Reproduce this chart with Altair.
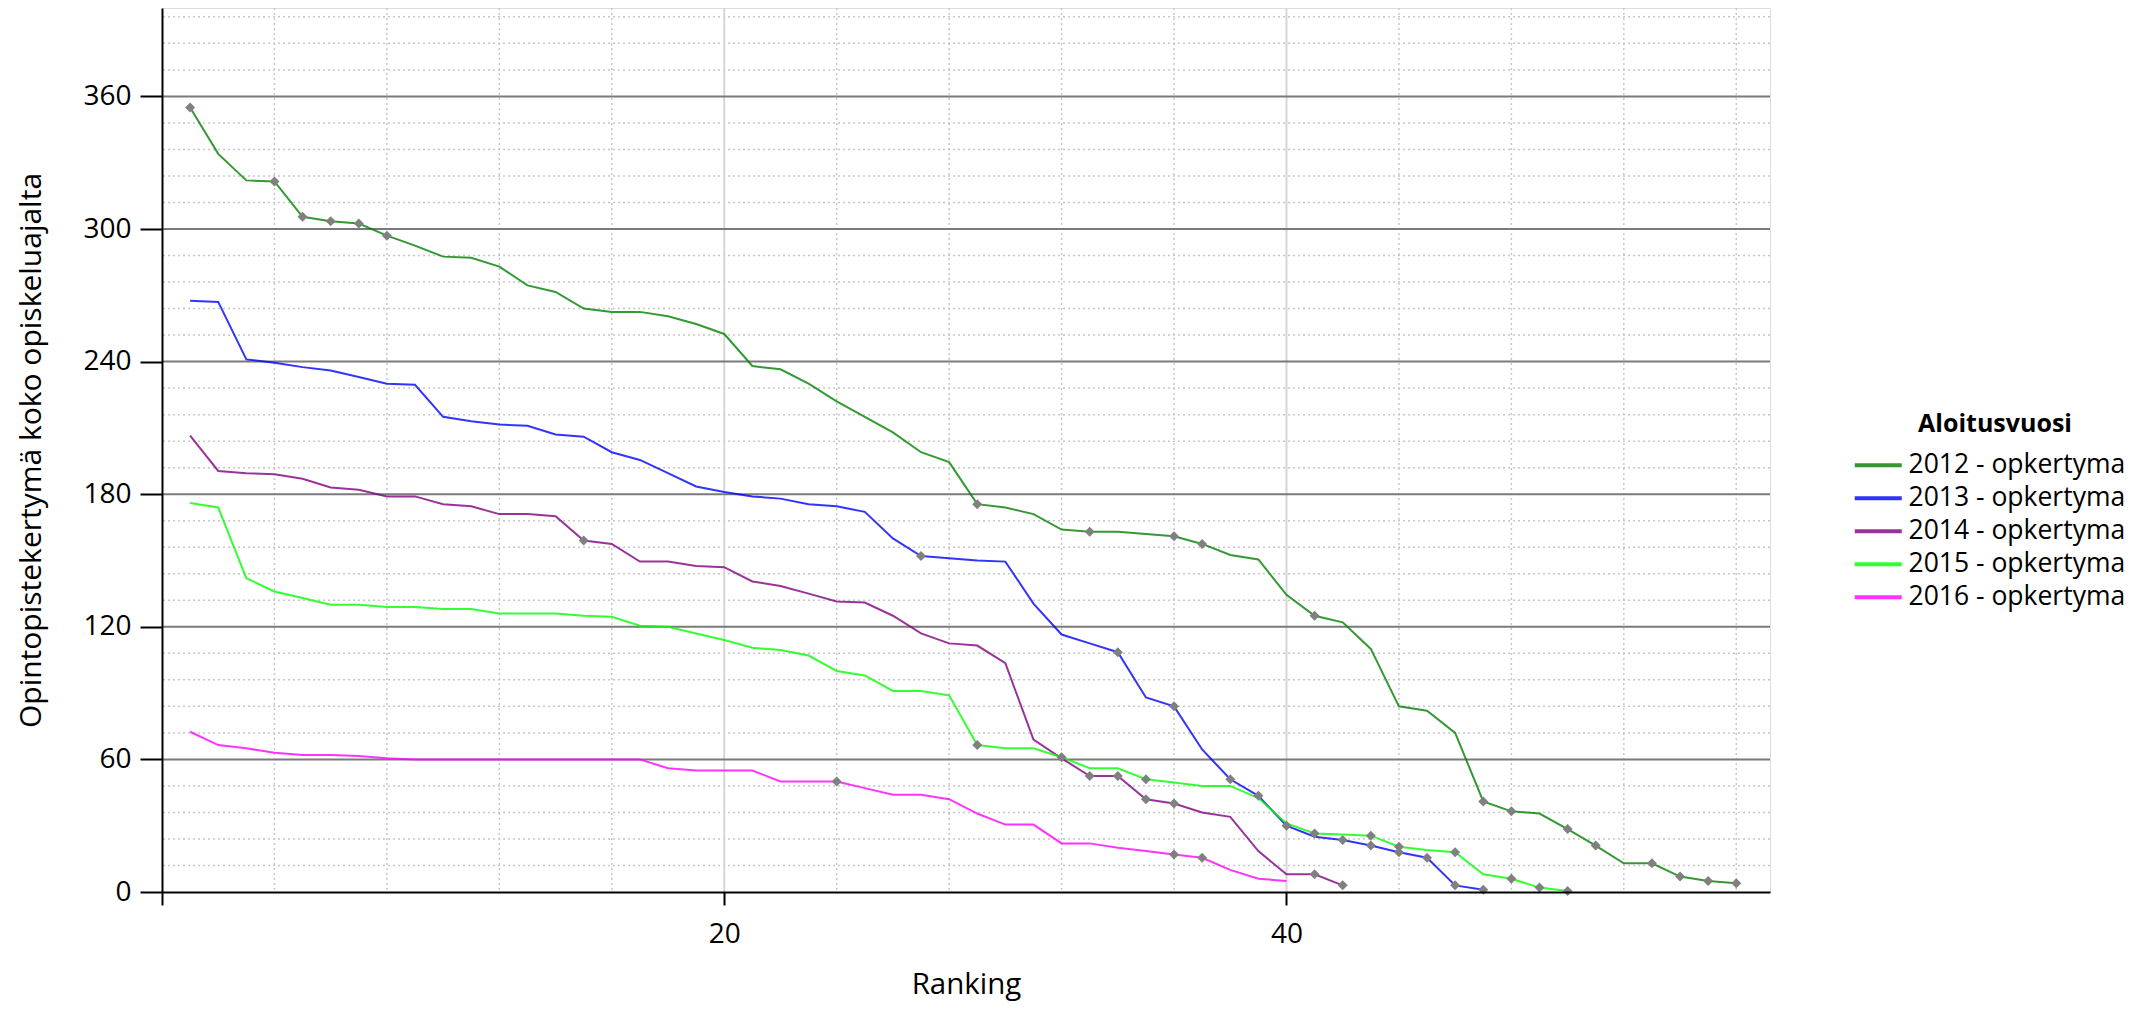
import altair as alt
import pandas as pd

series_names = ["2012 - opkertyma", "2013 - opkertyma", "2014 - opkertyma",
                "2015 - opkertyma", "2016 - opkertyma"]
series_colors = ["#008000", "#0000ff", "#800080", "#00ff00", "#ff00ff"]

v2012 = [355, 334, 322, 321.5, 305.5, 303.5, 302.5, 297, 292.5, 287.5, 287, 283, 274.5, 271.5,
         264, 262.5, 262.5, 260.5, 257, 252.5, 238, 236.5, 230, 222, 215, 208, 199, 194.5,
         175.5, 174, 171, 164, 163, 163, 162, 161, 157.5, 152.5, 150.5, 134.5, 125, 122, 110,
         84, 82, 72, 41, 36.5, 35.5, 28.5, 21, 13, 13, 7, 5, 4]
v2013 = [267.5, 267, 241, 239.5, 237.5, 236, 233, 230, 229.5, 215, 213, 211.5, 211, 207, 206,
         199, 195.5, 189.5, 183.5, 181, 179, 178, 175.5, 174.5, 172, 160, 152, 151, 150, 149.5,
         130.5, 116.5, 112.5, 108.5, 88, 84, 64.5, 51, 43.5, 30, 25, 23.5, 21, 18, 15.5, 3, 1]
v2014 = [206.5, 190.5, 189.5, 189, 187, 183, 182, 179, 179, 175.5, 174.5, 171, 171, 170, 159,
         157.5, 149.5, 149.5, 147.5, 147, 140.5, 138.5, 135, 131.5, 131, 125, 117, 112.5, 111.5,
         103.5, 69, 60.5, 52.5, 52.5, 42, 40, 36, 34, 18.5, 8, 8, 3]
v2015 = [176, 174, 142, 136, 133, 130, 130, 129, 129, 128, 128, 126, 126, 126, 125, 124.5,
         120.5, 120, 117, 114, 110.5, 109.5, 107, 100, 98, 91, 91, 89, 66.5, 65, 65, 61, 56, 56,
         51, 49.5, 48, 48, 42.5, 31, 26.5, 26, 25.5, 20.5, 19, 18, 8, 6, 2, 0.5]
v2016 = [72.5, 66.5, 65, 63, 62, 62, 61.5, 60.5, 60, 60, 60, 60, 60, 60, 60, 60, 60, 56, 55,
         55, 55, 50, 50, 50, 47, 44, 44, 42, 35.5, 30.5, 30.5, 22, 22, 20, 18.5, 17, 15.5, 10,
         6, 5]
series_values = [v2012, v2013, v2014, v2015, v2016]

# ranks that carry a grey diamond marker, per series
m2012 = [1, 4, 5, 6, 7, 8, 29, 33, 36, 37, 41, 47, 48, 50, 51, 53, 54, 55, 56]
m2013 = [27, 34, 36, 38, 39, 40, 42, 43, 44, 45, 46, 47]
m2014 = [15, 33, 34, 35, 36, 41, 42]
m2015 = [29, 32, 35, 41, 43, 44, 46, 48, 49, 50]
m2016 = [24, 36, 37]
series_markers = [m2012, m2013, m2014, m2015, m2016]

# grid / tick positions
x_minor = [4, 8, 12, 16, 24, 28, 32, 36, 44, 48, 52, 56]
x_major = [20, 40]
x_ticks = [0, 20, 40]
y_major = [60, 120, 180, 240, 300, 360]
y_minor = [v for v in range(12, 400, 12) if v % 60 != 0]
y_ticks = [0, 60, 120, 180, 240, 300, 360]

rows, mrows = [], []
for name, vals, marks in zip(series_names, series_values, series_markers):
    for i, v in enumerate(vals, start=1):
        rows.append({"rank": i, "value": v, "series": name})
        if i in marks:
            mrows.append({"rank": i, "value": v, "series": name})
df = pd.DataFrame(rows)
dm = pd.DataFrame(mrows)

FONT = "Open Sans"
xscale = alt.Scale(domain=[0, 57.2], nice=False, zero=False)
yscale = alt.Scale(domain=[0, 400], nice=False, zero=False)

x_axis = alt.Axis(values=x_ticks, title="Ranking", grid=False,
                  labelExpr="datum.value == 0 ? '' : datum.label",
                  tickSize=13, tickWidth=2, tickColor="#000",
                  domainColor="#000", domainWidth=2,
                  labelFont=FONT, labelFontSize=28, labelColor="#000",
                  labelPadding=15,
                  titleFont=FONT, titleFontSize=29.5, titleFontWeight="normal",
                  titleColor="#000", titleY=101, titleBaseline="alphabetic",
                  zindex=1)
y_axis = alt.Axis(values=y_ticks, title="Opintopistekertymä koko opiskeluajalta",
                  grid=False, tickSize=22, tickWidth=2, tickColor="#000",
                  domainColor="#000", domainWidth=2,
                  labelFont=FONT, labelFontSize=28, labelColor="#000",
                  labelPadding=9,
                  titleFont=FONT, titleFontSize=30, titleFontWeight="normal",
                  titleColor="#000", titleX=-131, titleY=442,
                  titleAngle=270, titleBaseline="middle", titleAlign="center",
                  zindex=1)

X = alt.X("rank:Q", scale=xscale, axis=x_axis, title="Ranking")
Y = alt.Y("value:Q", scale=yscale, axis=y_axis,
          title="Opintopistekertymä koko opiskeluajalta")

grid_x_minor = alt.Chart(pd.DataFrame({"rank": x_minor})).mark_rule(
    color="#c8c8c8", strokeWidth=1.5, strokeDash=[2, 3]
).encode(x=X)

grid_y_minor = alt.Chart(pd.DataFrame({"value": y_minor})).mark_rule(
    color="#c8c8c8", strokeWidth=1.5, strokeDash=[2, 3]
).encode(y=Y)

grid_x_major = alt.Chart(pd.DataFrame({"rank": x_major})).mark_rule(
    color="#d6d6d6", strokeWidth=2
).encode(x=X)

grid_y_major = alt.Chart(pd.DataFrame({"value": y_major})).mark_rule(
    color="#7a7a7a", strokeWidth=2
).encode(y=Y)

lines = alt.Chart(df).mark_line(strokeWidth=2, opacity=0.8).encode(
    x=X,
    y=Y,
    color=alt.Color("series:N",
                    scale=alt.Scale(domain=series_names, range=series_colors),
                    legend=alt.Legend(title="Aloitusvuosi", orient="none",
                                      legendX=1703, legendY=404, padding=0,
                                      titleFont=FONT, titleFontSize=25,
                                      titleFontWeight="bold", titleColor="#000",
                                      titleAnchor="middle", titleAlign="center",
                                      titlePadding=15,
                                      labelFont=FONT, labelFontSize=26.5,
                                      labelColor="#000", labelOffset=17,
                                      labelLimit=0,
                                      symbolType="M-2.35,0H2.35", symbolStrokeWidth=4,
                                      symbolSize=400, rowPadding=6)),
    order="rank:Q",
)

markers = alt.Chart(dm).mark_point(
    shape="diamond", filled=True, color="#808080", size=100, opacity=1
).encode(x=X, y=Y)

chart = alt.layer(
    grid_x_minor, grid_y_minor, grid_x_major, grid_y_major, lines, markers
).properties(
    width=1608, height=884,
    autosize=alt.AutoSizeParams(type="none"),
    padding={"left": 154, "top": 0, "right": 372, "bottom": 111},
).configure_view(stroke=None).configure(font=FONT)

chart.save("out.html", embed_options={"renderer": "svg", "actions": False})
